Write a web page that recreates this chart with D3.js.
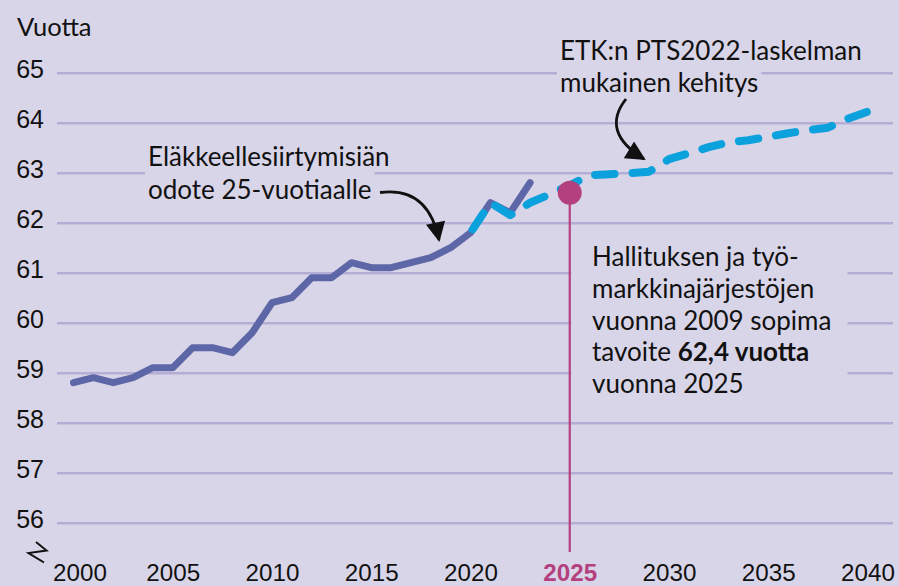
<!DOCTYPE html>
<html lang="fi">
<head>
<meta charset="UTF-8">
<title>Eläkkeellesiirtymisiän odote</title>
<style>
  body { margin: 0; background: #d9d5e8; }
  svg { display: block; font-family: Lato, "Open Sans", sans-serif; }
</style>
</head>
<body>
<svg id="svg" width="899" height="586"></svg>
<script src="https://d3js.org/d3.v7.min.js"></script>
<script>
// ------ DATA ------------------------
const years = [2000, 2001, 2002, 2003, 2004, 2005, 2006, 2007, 2008, 2009, 2010, 2011,
               2012, 2013, 2014, 2015, 2016, 2017, 2018, 2019, 2020, 2021, 2022, 2023]
const actual = [58.8, 58.9, 58.8, 58.9, 59.1, 59.1, 59.5, 59.5, 59.4, 59.8, 60.4, 60.5,
                60.9, 60.9, 61.2, 61.1, 61.1, 61.2, 61.3, 61.5, 61.8, 62.4, 62.2, 62.8]

// ETK PTS2022 projection
const projYears = [2020, 2021, 2022, 2023, 2024, 2025, 2026, 2027, 2028, 2029, 2030,
                   2031, 2032, 2033, 2034, 2035, 2036, 2037, 2038, 2039, 2040]
const projection = [61.8, 62.4, 62.15, 62.4, 62.57, 62.75, 62.95, 62.97, 62.99, 63.02, 63.27,
                    63.39, 63.51, 63.61, 63.65, 63.72, 63.79, 63.85, 63.9, 64.08, 64.22]

// 2009 agreement target (marker as drawn in the picture)
const targetYear = 2025
const targetValue = 62.6

const yTicks = [56, 57, 58, 59, 60, 61, 62, 63, 64, 65]
const xTicks = [2000, 2005, 2010, 2015, 2020, 2025, 2030, 2035, 2040]

// ------ CONSTANTS ------------------------
const bg = '#d9d5e8'
const gridColor = '#b5aed4'
const purple = '#5d66a6'
const blue = '#0ba1dc'
const magenta = '#b4417f'
const fs = 25       // tick labels
const fsNote = 26   // annotations

const gridLeft = 57, gridRight = 893

// ------ SCALES ------------------------
const x = d3.scaleLinear().domain([2000, 2040]).range([73.5, 867.5])
const y = d3.scaleLinear().domain([56, 65]).range([522.7, 72.7])

const svg = d3.select('#svg')
svg.append('rect').attr('width', 899).attr('height', 586).attr('fill', bg)

// ------ AXES ------------------------
const leftAxis = d3.axisLeft(y)
    .tickValues(yTicks)
    .tickSize(-(gridRight - gridLeft))
    .tickPadding(13)
const yAxisG = svg.append('g')
    .attr('transform', `translate(${gridLeft}, 0)`)
    .call(leftAxis)
yAxisG.select('.domain').remove()
yAxisG.selectAll('line').attr('stroke', gridColor).attr('stroke-width', 2.6)
yAxisG.selectAll('text')
    .attr('font-size', fs).attr('font-family', null).attr('fill', '#111')
    .attr('dy', '0.18em')

const bottomAxis = d3.axisBottom(x).tickValues(xTicks).tickSize(0).tickFormat(d3.format('d'))
const xAxisG = svg.append('g')
    .attr('transform', 'translate(0, 580.5)')
    .call(bottomAxis)
xAxisG.select('.domain').remove()
xAxisG.selectAll('text')
    .attr('y', 0).attr('dy', 0)
    .attr('font-size', 24.2).attr('font-family', null)
    .attr('fill', d => d === targetYear ? magenta : '#111')
    .attr('font-weight', d => d === targetYear ? 'bold' : null)
    .attr('dx', d => d === 2000 ? 6 : 0)

svg.append('text').attr('x', 17).attr('y', 36)
    .attr('font-size', 25.5).attr('fill', '#111').text('Vuotta')

// axis break mark
svg.append('path')
    .attr('d', 'M36,542 L46.5,550.5 L28.5,553 L44,562.5')
    .attr('fill', 'none').attr('stroke', '#111').attr('stroke-width', 2)

// ------ ANNOTATIONS ------------------------
// text lines with background boxes that cut the gridlines
function annotate(lines, x0, y0, lh) {
    const g = svg.append('g')
    lines.forEach((ln, i) => {
        const t = g.append('text').attr('x', x0).attr('y', y0 + i * lh)
            .attr('font-size', fsNote).attr('fill', '#111')
        ln.forEach(part => t.append('tspan').attr('font-weight', part.bold ? 'bold' : null).text(part.t))
    })
    return g
}
function boxLines(g, x0, y0, lh) {
    g.selectAll('text').each(function (d, i) {
        const w = this.getComputedTextLength()
        g.insert('rect', 'text')
            .attr('x', x0 - 3).attr('y', y0 + i * lh - 28)
            .attr('width', w + 6).attr('height', 32.5)
            .attr('fill', bg)
    })
}

const leftNote = annotate([[{ t: 'Eläkkeellesiirtymisiän' }], [{ t: 'odote 25-vuotiaalle' }]], 148, 166, 32.5)
boxLines(leftNote, 148, 166, 32.5)

const etkNote = annotate([[{ t: 'ETK:n PTS2022-laskelman' }], [{ t: 'mukainen kehitys' }]], 560, 59.5, 32.3)
boxLines(etkNote, 560, 59.5, 32.3)

svg.append('rect').attr('x', x(targetYear) + 1.5).attr('y', 238)
    .attr('width', 846 - x(targetYear)).attr('height', 165).attr('fill', bg)
annotate([
    [{ t: 'Hallituksen ja työ-' }],
    [{ t: 'markkinajärjestöjen' }],
    [{ t: 'vuonna 2009 sopima' }],
    [{ t: 'tavoite ' }, { t: '62,4 vuotta', bold: true }],
    [{ t: 'vuonna 2025' }]
], 592, 266, 31.8)

// arrows
const defs = svg.append('defs')
defs.append('marker').attr('id', 'head')
    .attr('viewBox', '0 0 10 10').attr('refX', 9).attr('refY', 5)
    .attr('markerWidth', 7.5).attr('markerHeight', 7).attr('markerUnits', 'strokeWidth')
    .attr('orient', 'auto')
    .append('path').attr('d', 'M0,0 L10,5 L0,10 Z').attr('fill', '#111')

svg.append('path').attr('d', 'M380,192.5 Q428,186 439,240')
    .attr('fill', 'none').attr('stroke', '#111').attr('stroke-width', 2.8)
    .attr('marker-end', 'url(#head)')
svg.append('path').attr('d', 'M626,99 Q600,132 644,159')
    .attr('fill', 'none').attr('stroke', '#111').attr('stroke-width', 2.8)
    .attr('marker-end', 'url(#head)')

// ------ LINES ------------------------
const line = d3.line().x(d => x(d[0])).y(d => y(d[1]))

svg.append('path')
    .datum(years.map((yr, i) => [yr, actual[i]]))
    .attr('d', line)
    .attr('fill', 'none').attr('stroke', purple).attr('stroke-width', 7)
    .attr('stroke-linecap', 'round').attr('stroke-linejoin', 'round')

svg.append('path')
    .datum(projYears.map((yr, i) => [yr, projection[i]]))
    .attr('d', line)
    .attr('fill', 'none').attr('stroke', blue).attr('stroke-width', 8)
    .attr('stroke-dasharray', '19.5,18').attr('stroke-dashoffset', -4)
    .attr('stroke-linecap', 'round').attr('stroke-linejoin', 'round')

// target marker
svg.append('line')
    .attr('x1', x(targetYear)).attr('x2', x(targetYear))
    .attr('y1', y(targetValue)).attr('y2', 552)
    .attr('stroke', magenta).attr('stroke-width', 2.2)
svg.append('circle')
    .attr('cx', x(targetYear)).attr('cy', y(targetValue)).attr('r', 12)
    .attr('fill', magenta)
</script>
</body>
</html>
